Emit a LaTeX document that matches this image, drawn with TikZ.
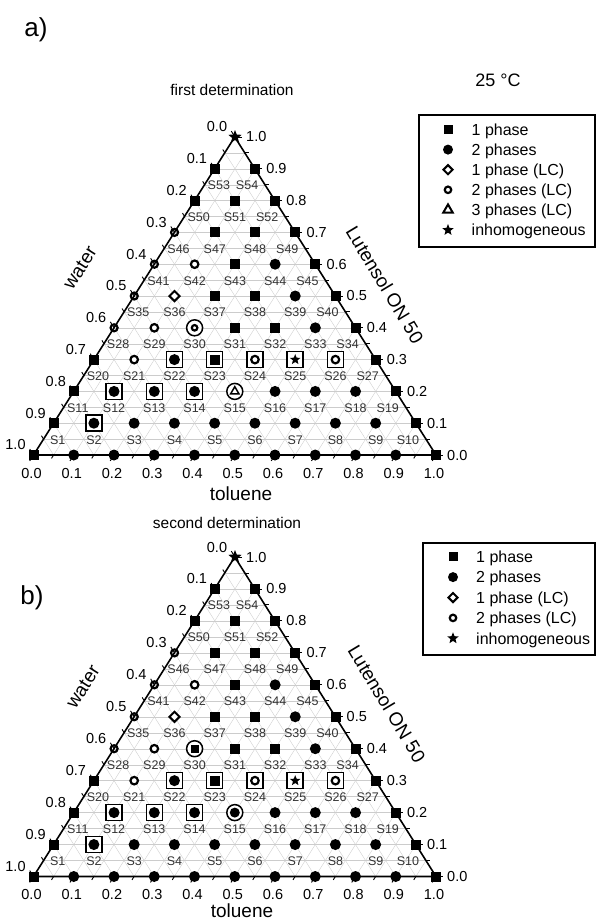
\documentclass[tikz,border=0pt]{standalone}
\usepackage{fontspec}
\setmainfont{Liberation Sans}
\usetikzlibrary{shapes.geometric}

\tikzset{
 gridl/.style={draw=gray!40, line width=0.35pt},
 triedge/.style={draw=black, line width=1.6pt, line join=miter},
 tickl/.style={draw=black, line width=0.9pt},
 msq/.style={rectangle, fill=black, inner sep=0pt, minimum size=10pt},
 mci/.style={circle, fill=black, inner sep=0pt, minimum size=11pt},
 mring/.style={circle, draw=black, line width=2.2pt, fill=white, inner sep=0pt, minimum size=7.5pt},
 mdia/.style={diamond, draw=black, line width=2pt, fill=white, inner sep=0pt, minimum size=11pt},
 mtri/.style={regular polygon, regular polygon sides=3, draw=black, line width=1.5pt, inner sep=0pt, minimum size=9.5pt},
 mstar/.style={star, star points=5, star point ratio=2.3, fill=black, inner sep=0pt, minimum size=14pt},
 mframe/.style={rectangle, draw=black, line width=1.5pt, fill=white, inner sep=0pt, minimum size=16pt},
 mbig/.style={circle, draw=black, line width=1.5pt, fill=white, inner sep=0pt, minimum size=16pt},
 slab/.style={font=\fontsize{12.5}{13}\selectfont, text=black!80, inner sep=0pt},
 tlab/.style={font=\fontsize{14.5}{15}\selectfont, inner sep=0pt},
 ttl/.style={font=\fontsize{15.5}{16}\selectfont, inner sep=0pt},
 axt/.style={font=\fontsize{19}{19}\selectfont, inner sep=0pt},
 plab/.style={font=\fontsize{26}{26}\selectfont, inner sep=0pt},
 legtext/.style={font=\fontsize{16}{16}\selectfont, inner sep=0pt, anchor=base west},
 legbox/.style={draw=black, line width=1.3pt, inner sep=0pt, fill=white},
}

\newcommand\tern[4]{\pgfmathsetmacro\px{33.5+402.5*(#1)+201.5*(#2)}\pgfmathsetmacro\py{#3-(#4)*(#2)}}

\newcommand\markXq[3]{\node[msq] (#3) at (#1,#2) {};}
\newcommand\markXc[3]{\node[mci] (#3) at (#1,#2) {};}
\newcommand\markXr[3]{\node[mring] (#3) at (#1,#2) {};}
\newcommand\markXe[3]{\node[mring,fill=none,minimum size=7pt] (#3) at (#1,#2) {};}
\newcommand\markXd[3]{\node[mdia] (#3) at (#1,#2) {};}
\newcommand\markXs[3]{\node[mstar] (#3) at (#1,#2) {};}
\newcommand\markXF[3]{\node[mframe] (#3f) at (#1,#2) {};\node[mci] (#3) at (#1,#2) {};}
\newcommand\markXG[3]{\node[mframe] (#3f) at (#1,#2) {};\node[msq] (#3) at (#1,#2) {};}
\newcommand\markXR[3]{\node[mframe] (#3f) at (#1,#2) {};\node[mring] (#3) at (#1,#2) {};}
\newcommand\markXT[3]{\node[mframe] (#3f) at (#1,#2) {};\node[mstar,minimum size=11pt] (#3) at (#1,#2) {};}
\newcommand\markXA[3]{\node[mbig] (#3f) at (#1,#2) {};\node[mtri] (#3) at (#1,#2) {};}
\newcommand\markXB[3]{\node[mbig] (#3f) at (#1,#2) {};\node[mring,minimum size=5.5pt] (#3) at (#1,#2) {};}
\newcommand\markXD[3]{\node[mbig] (#3f) at (#1,#2) {};\node[mci,minimum size=10pt] (#3) at (#1,#2) {};}
\newcommand\markXE[3]{\node[mbig] (#3f) at (#1,#2) {};\node[msq,minimum size=8pt] (#3) at (#1,#2) {};}

\newcommand\legXq[3]{\node[msq,minimum size=9pt] (#3) at (#1,#2) {};}
\newcommand\legXc[3]{\node[mci,minimum size=10pt] (#3) at (#1,#2) {};}
\newcommand\legXd[3]{\node[mdia,minimum size=10pt] (#3) at (#1,#2) {};}
\newcommand\legXr[3]{\node[mring,minimum size=6.5pt] (#3) at (#1,#2) {};}
\newcommand\legXt[3]{\node[mtri,line width=2pt,minimum size=11pt] (#3) at (#1,#2) {};}
\newcommand\legXs[3]{\node[mstar,minimum size=12pt] (#3) at (#1,#2) {};}

% #1 prefix #2 base y #3 height #4 row #5 first sample number #6 marker list
\newcommand\rowmarks[6]{%
 \foreach \ty [count=\kk from 0] in {#6} {%
   \pgfmathsetmacro\tv{\kk/10}\pgfmathsetmacro\lv{#4/10}%
   \tern{\tv}{\lv}{#2}{#3}%
   \csname markX\ty\endcsname{\px}{\py}{#1p#4-\kk}%
   \ifnum#4>0 \ifnum#4<10
     \pgfmathsetmacro\dx{(\kk==0)*4-(\kk==(10-#4))*8}%
     \pgfmathtruncatemacro\sn{#5+\kk}%
     \node[slab] (#1S\sn) at (\px+\dx,\py+16.5) {S\sn};
   \fi\fi
 }%
}

% #1 prefix #2 base y #3 height #4 S15 marker #5 S30 marker
\newcommand\drawplot[5]{%
 \coordinate (#1BL) at (33.5,#2);
 \coordinate (#1BR) at (436,#2);
 \coordinate (#1AP) at (234.75,#2-#3);
 \foreach \i in {1,...,19}{%
   \pgfmathsetmacro\f{\i/20}%
   \pgfmathsetmacro\g{1-\f}%
   \tern{0}{\f}{#2}{#3}\let\ax\px\let\ay\py
   \tern{\g}{\f}{#2}{#3}%
   \draw[gridl] (\ax,\ay) -- (\px,\py);
   \tern{\f}{0}{#2}{#3}\let\ax\px\let\ay\py
   \tern{\f}{\g}{#2}{#3}%
   \draw[gridl] (\ax,\ay) -- (\px,\py);
   \tern{\f}{0}{#2}{#3}\let\ax\px\let\ay\py
   \tern{0}{\f}{#2}{#3}%
   \draw[gridl] (\ax,\ay) -- (\px,\py);
 }
 \draw[triedge] (#1BL) -- (#1BR) -- (#1AP) -- cycle;
 \foreach \i in {0,...,20}{%
   \pgfmathsetmacro\f{\i/20}%
   \pgfmathsetmacro\g{1-\f}%
   \pgfmathsetmacro\tlen{ifthenelse(mod(\i,2)==0,7,4)}%
   \tern{\f}{0}{#2}{#3}%
   \draw[tickl] (\px,\py) -- ++(-0.535*\tlen,0.845*\tlen);
   \tern{0}{\f}{#2}{#3}%
   \draw[tickl] (\px,\py) -- ++(-0.535*\tlen,-0.845*\tlen);
   \tern{\g}{\f}{#2}{#3}%
   \draw[tickl] (\px,\py) -- ++(\tlen,0);
 }
 \rowmarks{#1}{#2}{#3}{0}{0}{q,c,c,c,c,c,c,c,c,c,q}
 \rowmarks{#1}{#2}{#3}{1}{1}{q,F,c,c,c,c,c,c,c,q}
 \rowmarks{#1}{#2}{#3}{2}{11}{q,F,F,F,#4,c,c,c,q}
 \rowmarks{#1}{#2}{#3}{3}{20}{q,r,F,G,R,T,R,q}
 \rowmarks{#1}{#2}{#3}{4}{28}{e,r,#5,q,q,c,q}
 \rowmarks{#1}{#2}{#3}{5}{35}{e,d,q,q,c,q}
 \rowmarks{#1}{#2}{#3}{6}{41}{e,r,q,c,q}
 \rowmarks{#1}{#2}{#3}{7}{46}{e,q,q,q}
 \rowmarks{#1}{#2}{#3}{8}{50}{q,q,q}
 \rowmarks{#1}{#2}{#3}{9}{53}{q,q}
 \rowmarks{#1}{#2}{#3}{10}{0}{s}
 \foreach \i/\va/\vb in {0/0.0/1.0,1/0.1/0.9,2/0.2/0.8,3/0.3/0.7,4/0.4/0.6,5/0.5/0.5,6/0.6/0.4,7/0.7/0.3,8/0.8/0.2,9/0.9/0.1,10/1.0/0.0}{%
   \pgfmathsetmacro\f{\i/10}%
   \pgfmathsetmacro\g{1-\f}%
   \tern{\f}{0}{#2}{#3}%
   \node[tlab] (#1tb\i) at (\px-2,\py+18) {\va};
   \tern{0}{\f}{#2}{#3}%
   \node[tlab] (#1tl\i) at (\px-18,\py-10) {\vb};
   \tern{\g}{\f}{#2}{#3}%
   \node[tlab,anchor=west] (#1tr\i) at (\px+11,\py) {\va};
 }
}

\begin{document}
\begin{tikzpicture}[x=1pt,y=-1pt]
\fill[white] (0,0) rectangle (596,922);
\useasboundingbox (0,0) rectangle (596,922);

\drawplot{a}{455}{318}{A}{B}
\drawplot{b}{876.5}{319.5}{D}{E}

\node[plab] (labA) at (36,30) {a)};
\node[plab] (labB) at (32,598) {b)};
\node[ttl] (titA) at (232,90) {first determination};
\node[ttl] (titB) at (227,523) {second determination};
\node[ttl,font=\fontsize{18}{18}\selectfont] (temp) at (498,80) {25 °C};

\node[axt,rotate=57.6] (watA) at (80,268) {water};
\node[axt,rotate=57.6] (watB) at (83,687) {water};
\node[axt,rotate=-59] (lutA) at (385,285) {Lutensol ON 50};
\node[axt,rotate=-59] (lutB) at (387,704) {Lutensol ON 50};
\node[axt] (tolA) at (241,494) {toluene};
\node[axt] (tolB) at (242,911) {toluene};

% legend a
\node[legbox, minimum width=176pt, minimum height=132pt] (legA) at (507,181) {};
\foreach \j/\ty/\txt in {0/q/1 phase,1/c/2 phases,2/d/1 phase (LC),3/r/2 phases (LC),4/t/3 phases (LC),5/s/inhomogeneous}{%
  \pgfmathsetmacro\yy{129.5+20.1*\j}%
  \csname legX\ty\endcsname{448}{\yy}{legAm\j}%
  \node[legtext] (legAt\j) at (471.5,\yy+5.7) {\txt};
}
% legend b
\node[legbox, minimum width=172pt, minimum height=112pt] (legB) at (509,599) {};
\foreach \j/\ty/\txt in {0/q/1 phase,1/c/2 phases,2/d/1 phase (LC),3/r/2 phases (LC),4/s/inhomogeneous}{%
  \pgfmathsetmacro\yy{556.7+20.4*\j}%
  \csname legX\ty\endcsname{453}{\yy}{legBm\j}%
  \node[legtext] (legBt\j) at (476,\yy+5.7) {\txt};
}
\end{tikzpicture}
\end{document}
